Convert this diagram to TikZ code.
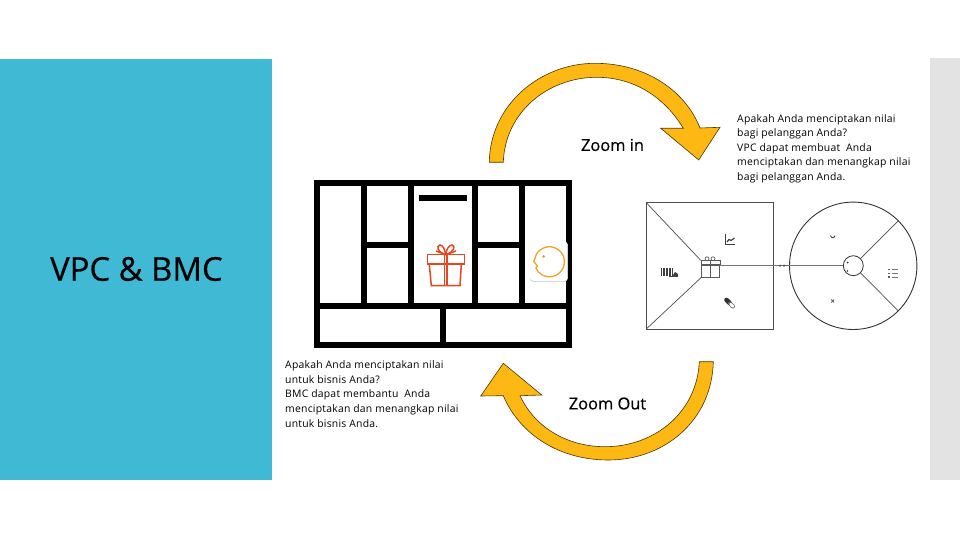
\documentclass[tikz,border=0pt]{standalone}
\usepackage{fontspec}
\setmainfont{Open Sans}
\newfontfamily\titlefont[FakeBold=0.5]{Open Sans}
\newfontfamily\spacedfont[LetterSpace=2.2]{Open Sans}
\usepackage{xcolor}
\definecolor{skyband}{HTML}{40B9D5}
\definecolor{greyband}{HTML}{E3E3E3}
\definecolor{arrowgold}{HTML}{FDB813}
\definecolor{giftred}{HTML}{E8461E}
\definecolor{faceorange}{HTML}{EFA32B}
\usepackage{tikz}
\tikzset{
  canvas/.style={x=1pt, y=-1pt},
  heading/.style={font=\titlefont\fontsize{32.8}{38}\selectfont, anchor=west, inner sep=0pt},
  zoomlabel/.style={font=\titlefont\fontsize{16.4}{19}\selectfont, anchor=center, inner sep=0pt},
  bodytext/.style={font=\spacedfont\fontsize{10.4}{14.6}\selectfont, align=left, anchor=north west, inner sep=0pt},
  canvasline/.style={line width=6pt, black},
  goldarrow/.style={fill=arrowgold, draw=black!70!arrowgold, line width=0.6pt},
  thinline/.style={draw=black!70, line width=0.7pt},
  tinyicon/.style={draw=black!75, line width=0.9pt}
}
\begin{document}
\begin{tikzpicture}[canvas]
  \useasboundingbox (0,0) rectangle (960,540);
  % Bands
  \fill[skyband] (0,59) rectangle (272,480);
  \fill[greyband] (930,58) rectangle (960,480);
  % Title
  \node[heading] (title) at (50,269) {VPC \& BMC};
  % Top arrow
  \draw[goldarrow] (489.3,162.3) .. controls (490,105) and (540,63.3) .. (595,63.3)
    .. controls (645,63.3) and (685,90) .. (700,128) -- (720,127.3) -- (698.7,160)
    -- (660.7,128.3) -- (683.3,128.3) .. controls (665,98) and (635,77.3) .. (596.7,77.3)
    .. controls (548,77.3) and (505,112) .. (503.3,162.3) -- cycle;
  \node[zoomlabel] (zoomin) at (612.5,145) {Zoom in};
  % Bottom arrow
  \draw[goldarrow] (713.3,361.7) .. controls (712,420) and (665,460) .. (608.3,460)
    .. controls (560,460) and (520,435) .. (503.3,395.7) -- (480.7,396) -- (503.3,363.3)
    -- (541.7,395) -- (520,395.7) .. controls (535,428) and (568,446.7) .. (605,446.7)
    .. controls (655,446.7) and (697,412) .. (699.3,361.7) -- cycle;
  \node[zoomlabel] (zoomout) at (607.5,403.5) {Zoom Out};
  % Business model canvas
  \draw[canvasline] (317,183) rectangle (568.7,344.7);
  \draw[canvasline] (314,305.7) -- (571,305.7);
  \draw[canvasline] (364,183) -- (364,305.7);
  \draw[canvasline] (411,183) -- (411,305.7);
  \draw[canvasline] (475,183) -- (475,305.7);
  \draw[canvasline] (522,183) -- (522,305.7);
  \draw[canvasline] (364,244.7) -- (411,244.7);
  \draw[canvasline] (475,244.7) -- (522,244.7);
  \draw[canvasline] (443,305.7) -- (443,344.7);
  \fill[black] (419,195) rectangle (466.7,201);
  % Gift in canvas
  \begin{scope}[draw=giftred, line width=1.5pt]
    \draw (427.3,254.7) rectangle (464.7,264);
    \draw (429.3,264) -- (431.3,285.7) -- (460,285.7) -- (461.3,264);
    \draw (444.6,254.7) -- (444.6,285.7) (446.8,254.7) -- (446.8,285.7);
    \draw (445.7,254.7) .. controls (437,252) and (436,246) .. (440,245) .. controls (443,245) and (445,250) .. (445.7,254.7);
    \draw (445.7,254.7) .. controls (454,252) and (456,246) .. (452,245) .. controls (449,245) and (446,250) .. (445.7,254.7);
    \draw (445.7,254.7) -- (436,251) (445.7,254.7) -- (456,251);
  \end{scope}
  % Face tile in canvas
  \fill[rounded corners=3pt, black!25] (530,242) rectangle (567.7,281.5);
  \fill[rounded corners=3pt, white] (530,241.7) rectangle (567.7,280.8);
  \draw[faceorange, line width=1.3pt, line join=round] (536.3,254.5) arc (-151:155:15) -- (537.5,266) -- (533.8,261.5) -- cycle;
  \fill[faceorange] (543.6,256.5) circle (1.4);
  % Text under canvas
  \node[bodytext] (bmctext) at (285,360.5) {Apakah Anda menciptakan nilai\\untuk bisnis Anda?\\BMC dapat membantu\ \ Anda\\menciptakan dan menangkap nilai\\untuk bisnis Anda.};
  % Text over value map
  \node[bodytext] (vpctext) at (737,114) {Apakah Anda menciptakan nilai\\bagi pelanggan Anda?\\VPC dapat membuat\ \ Anda\\menciptakan dan menangkap nilai\\bagi pelanggan Anda.};
  % Value map
  \draw[black!70, line width=0.9pt] (646.3,202.7) rectangle (773.3,329);
  \node[draw=black!65, line width=0.7pt, minimum width=17.4pt, minimum height=11.7pt, inner sep=0pt, anchor=north west] (vpcgift) at (701.3,265) {};
  \node[draw=black!65, line width=0.7pt, minimum width=19.3pt, minimum height=4pt, inner sep=0pt, anchor=south west] (vpclid) at (700.7,265) {};
  \draw[black!65, line width=0.7pt] (710,261) -- (710,276.7);
  \draw[black!65, line width=0.7pt] (707,258.8) circle (2) (713,258.8) circle (2);
  \coordinate (squarenw) at (646.3,202.7);
  \coordinate (squaresw) at (646.3,329);
  \draw[thinline] (squarenw) -- (vpclid.north west);
  \draw[thinline] (squaresw) -- (vpcgift.south west);
  % Customer profile
  \node[draw=black!80, line width=0.9pt, circle, minimum size=127.4pt, inner sep=0pt] (profile) at (853.2,265.8) {};
  \node[draw=black!80, line width=0.8pt, fill=white, circle, minimum size=20pt, inner sep=0pt] (custface) at (853.3,265.7) {};
  \fill[black!80] (847.5,262.5) circle (1) (847.5,271) circle (0.9);
  \draw[thinline] (custface.north east) -- (profile.45);
  \draw[thinline] (custface.south east) -- (profile.-45);
  % Fit line
  \draw[black!55, line width=1.1pt] (vpcgift.north east |- custface.west) -- (custface.west);
  \fill[black!70] (780,265.7) circle (1.2) (784,265.7) circle (1.2);
  % Value map icons
  \draw[tinyicon] (725.5,234) -- (725.5,244.5) -- (735,244.5);
  \draw[tinyicon, line width=1.2pt] (727,242) -- (729,239.5) -- (731,240.5) -- (734.5,238);
  \foreach \barx in {661.5,663,664.5,666,667.5,669,670.5,672} {
    \draw[black!75, line width=0.8pt] (\barx,268) -- (\barx,276);
  }
  \fill[black!75] (672,276.5) -- (675,272) -- (678,274) -- (678,276.5) -- cycle;
  \draw[black!75, line width=0.8pt] (669,276.8) -- (678,276.8);
  \draw[black!80, line width=4.6pt, line cap=round] (726.5,300) -- (729.5,303);
  \draw[black!60, line width=4pt, line cap=round] (730,303.5) -- (733,306.5);
  \draw[white, line width=2.8pt, line cap=round] (730.5,304) -- (733,306.5);
  % Customer profile icons
  \draw[tinyicon] (830.5,235.5) .. controls (831,238.5) and (834.5,238.5) .. (835,235.5);
  \draw[black!60, line width=0.8pt] (831.2,299.5) -- (834.2,302.5) (834.2,299.5) -- (831.2,302.5);
  \foreach \listy in {269,272.7,276.4} {
    \fill[black!65] (888.2,\listy) rectangle (889.8,\listy+1.4);
    \draw[black!55, line width=0.7pt] (891.5,\listy+0.7) -- (897.5,\listy+0.7);
  }
\end{tikzpicture}
\end{document}
